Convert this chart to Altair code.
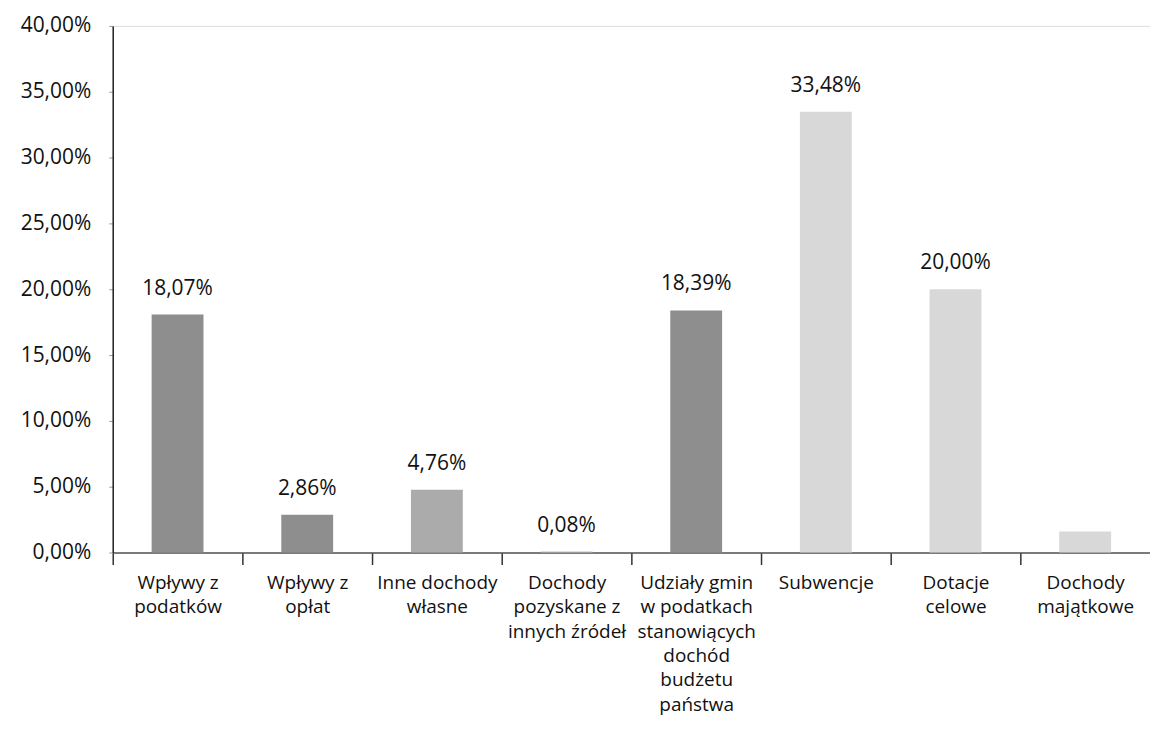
import altair as alt
import pandas as pd

categories = [
    "Wpływy z|podatków",
    "Wpływy z|opłat",
    "Inne dochody|własne",
    "Dochody|pozyskane z|innych źródeł",
    "Udziały gmin|w podatkach|stanowiących|dochód|budżetu|państwa",
    "Subwencje",
    "Dotacje|celowe",
    "Dochody|majątkowe",
]
values = [18.07, 2.86, 4.76, 0.08, 18.39, 33.48, 20.00, 1.6]
labels = ["18,07%", "2,86%", "4,76%", "0,08%", "18,39%", "33,48%", "20,00%", ""]
colors = ["#8e8e8e", "#8e8e8e", "#ababab", "#bdbdbd", "#8e8e8e", "#d8d8d8", "#d8d8d8", "#d8d8d8"]

df = pd.DataFrame({"cat": categories, "val": values, "lab": labels, "col": colors})

FONT = "Open Sans"
W = 1040
STEP = W / 8.0

x = alt.X(
    "cat:N",
    sort=categories,
    scale=alt.Scale(paddingInner=0.6, paddingOuter=0.3),
    axis=alt.Axis(
        title=None,
        labelAngle=0,
        labelExpr="split(datum.label, '|')",
        labelFont=FONT,
        labelFontSize=19,
        labelColor="#111111",
        labelLineHeight=24.4,
        labelPadding=9,
        labelLimit=250,
        labelOffset=STEP / 2,
        tickOffset=-STEP / 2,
        domainColor="#555555",
        domainWidth=1.5,
        tickColor="#333333",
        tickSize=12,
        tickWidth=1.5,
    ),
)

y = alt.Y(
    "val:Q",
    scale=alt.Scale(domain=[0, 40], nice=False),
    axis=alt.Axis(
        title=None,
        values=[0, 5, 10, 15, 20, 25, 30, 35, 40],
        labelExpr="replace(format(datum.value, '.2f'), '.', ',') + '%'",
        labelFont=FONT,
        labelFontSize=21,
        labelColor="#111111",
        labelPadding=18,
        grid=False,
        domainColor="#222222",
        domainWidth=1.5,
        tickColor="#999999",
        tickSize=4,
    ),
)

bars = alt.Chart(df).mark_bar().encode(
    x=x, y=y, color=alt.Color("col:N", scale=None)
)

text = alt.Chart(df).mark_text(
    dy=-20, baseline="alphabetic", font=FONT, fontSize=21, color="#111111"
).encode(x=alt.X("cat:N", sort=categories), y="val:Q", text="lab:N")

chart = (
    alt.layer(bars, text)
    .properties(
        width=W,
        height=528,
        padding={"left": 105, "top": 17, "right": 0, "bottom": 180},
        autosize=alt.AutoSizeParams(type="none"),
    )
    .configure_view(stroke=None)
    .configure(background="white")
)

chart.save("out.html", embed_options={"renderer": "svg", "actions": False})
